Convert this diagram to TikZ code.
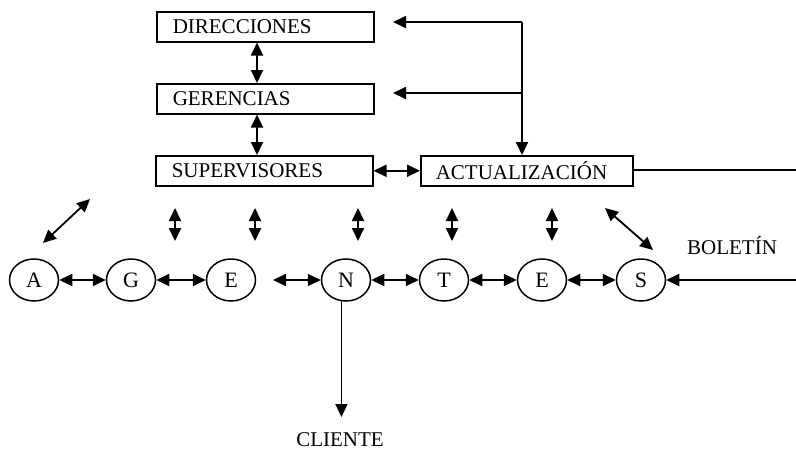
\documentclass[tikz,border=0pt]{standalone}
\usepackage{fontspec}
\setmainfont{Liberation Serif}
\usetikzlibrary{arrows.meta,shapes.geometric,calc}
\begin{document}
\begin{tikzpicture}[x=1pt,y=-1pt,
  line width=1.8pt,
  box/.style={draw,rectangle,line width=1.5pt,minimum height=30pt,inner xsep=16pt,inner ysep=0pt,
     align=left,font=\fontsize{21}{21}\selectfont,anchor=north west},
  circ/.style={draw,ellipse,line width=1.5pt,minimum width=49pt,minimum height=42pt,inner sep=0pt,
     font=\fontsize{22}{22}\selectfont},
  lab/.style={font=\fontsize{21}{21}\selectfont},
  dbl/.style={{Triangle[length=13pt,width=12pt]}-{Triangle[length=13pt,width=12pt]}},
  sgl/.style={-{Triangle[length=13pt,width=12pt]}}]
\useasboundingbox (0,0) rectangle (796,453);
% boxes
\node[box,text width=185pt] (dir) at (156,11) {DIRECCIONES};
\node[box,text width=185pt] (ger) at (156,83) {GERENCIAS};
\node[box,text width=185pt] (sup) at (155,155) {SUPERVISORES};
\node[box,text width=182pt,inner xsep=15pt] (act) at (420,155) {ACTUALIZACIÓN};
% circles
\node[circ] (A) at (34,280) {A};
\node[circ] (G) at (131,280) {G};
\node[circ] (E1) at (231,280) {E};
\node[circ] (N) at (346,280) {N};
\node[circ] (T) at (444,280) {T};
\node[circ] (E2) at (542,280) {E};
\node[circ] (S) at (641,280) {S};
% labels
\node[lab] (bol) at (732,246) {BOLETÍN};
\node[lab] (cli) at (340,440) {CLIENTE};
% coordinates
\coordinate (corner) at (522,22);
\coordinate (fbd) at (393,22);
\coordinate (fbg) at (393,93);
\coordinate (fbm) at (522,93);
\coordinate (re) at (796,170);
\coordinate (rs) at (796,280);
\coordinate (en) at (273,280);
\coordinate (clt) at (339,417);
% vertical between boxes
\draw[dbl] (dir.south -| 257,0) -- (ger.north -| 257,0);
\draw[dbl] (ger.south -| 257,0) -- (sup.north -| 257,0);
\draw[dbl] (sup.east) -- (act.west);
% feedback
\draw[sgl] (corner) -- (fbd);
\draw[sgl] (fbm) -- (fbg);
\draw[sgl] (corner) -- (act.north -| corner);
\draw (act.east |- re) -- (re);
% verticals to circles
\foreach \x in {175,255,358,452,552}
  \draw[dbl] (\x,208) -- (\x,241);
\draw[dbl] (90,199) -- (43,243);
\draw[dbl] (605,208) -- (653,250);
% circle row
\draw[dbl] (A) -- (G);
\draw[dbl] (G) -- (E1);
\draw[dbl] (en) -- (N);
\draw[dbl] (N) -- (T);
\draw[dbl] (T) -- (E2);
\draw[dbl] (E2) -- (S);
\draw[sgl] (rs) -- (S);
\draw[sgl] (N.258) -- (N.258 |- clt);
\end{tikzpicture}
\end{document}
